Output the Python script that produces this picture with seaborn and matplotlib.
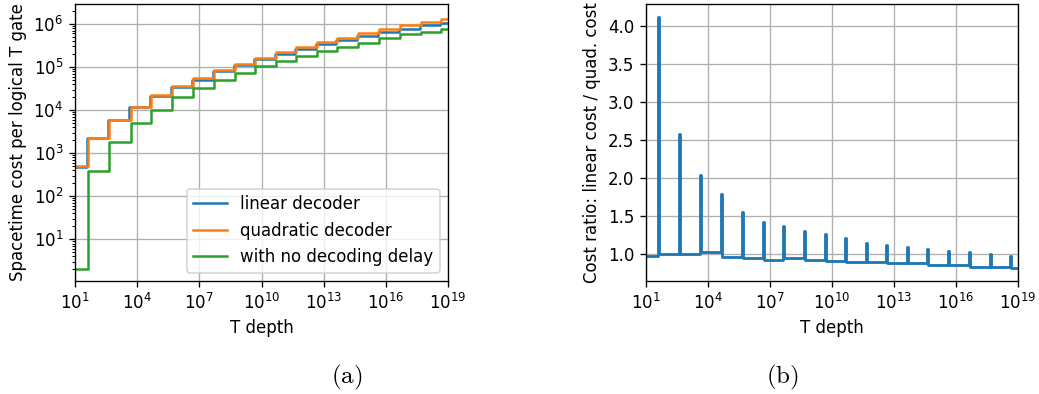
import numpy as np
import pandas as pd
import matplotlib
matplotlib.use("Agg")
import matplotlib.pyplot as plt
import matplotlib.ticker as ticker
import seaborn as sns

# log10(T depth) where the code distance steps up (quadratic decoder / no delay)
step_exp = [1.63, 2.66, 3.68, 4.68, 5.69, 6.69, 7.69, 8.70, 9.70, 10.69,
            11.68, 12.67, 13.66, 14.65, 15.67, 16.67, 17.68, 18.67]
# the linear decoder steps up a hair earlier
lin_step_exp = [1.58, 2.61, 3.63, 4.63, 5.64, 6.64, 7.64, 8.65, 9.65, 10.64,
                11.63, 12.62, 13.61, 14.60, 15.62, 16.62, 17.63, 18.62]

# spacetime cost per logical T gate on each plateau
linear_cost = [487, 2230, 5800, 11700, 21200, 34000, 51000, 78900, 108500, 150000,
               205000, 258000, 336000, 422000, 521000, 646000, 776000, 924000, 1077000]
quad_cost = [500, 2230, 5800, 11500, 22000, 36000, 55000, 83000, 118000, 165000,
             228000, 290000, 380000, 480000, 610000, 760000, 930000, 1120000, 1330000]
nodelay_cost = [2.1, 390, 1800, 5000, 10200, 19800, 32000, 49000, 74000, 105000,
                138000, 181000, 236000, 297000, 370000, 465000, 575000, 665000, 760000]

# panel (b): ratio linear / quadratic on each plateau and at each step
ratio_base = [0.975, 1.0, 1.0, 1.02, 0.965, 0.945, 0.925, 0.95, 0.92, 0.91,
              0.90, 0.89, 0.885, 0.88, 0.855, 0.85, 0.835, 0.825, 0.81]
ratio_peak = [4.13, 2.58, 2.04, 1.79, 1.56, 1.42, 1.37, 1.30, 1.26, 1.205,
              1.15, 1.12, 1.095, 1.065, 1.04, 1.02, 1.00, 0.98]

xticks = [1e1, 1e4, 1e7, 1e10, 1e13, 1e16, 1e19]


def steps_frame(exps, levels):
    t = np.concatenate([[1e1], 10.0 ** np.array(exps), [1e19]])
    c = list(levels) + [levels[-1]]
    return pd.DataFrame({"T": t, "cost": c})


plt.rcParams["mathtext.fontset"] = "cm"
fig = plt.figure(figsize=(1039 / 120, 394 / 120), dpi=120)
ax1 = fig.add_axes([75 / 1039, 113 / 394, 373 / 1039, 277 / 394])
ax2 = fig.add_axes([646 / 1039, 113 / 394, 372 / 1039, 277 / 394])

# (a) cost curves
for exps, levels, col, lab in [(lin_step_exp, linear_cost, "C0", "linear decoder"),
                               (step_exp, quad_cost, "C1", "quadratic decoder"),
                               (step_exp, nodelay_cost, "C2", "with no decoding delay")]:
    df = steps_frame(exps, levels)
    sns.lineplot(data=df, x="T", y="cost", ax=ax1, color=col, label=lab,
                 drawstyle="steps-post", lw=1.5)
ax1.set_xscale("log")
ax1.set_yscale("log")
ax1.set_xlim(1e1, 1e19)
ax1.set_ylim(1.08, 2.9e6)
ax1.set_xticks(xticks)
ax1.xaxis.set_minor_locator(ticker.NullLocator())
ax1.grid(True)
ax1.set_xlabel("T depth")
ax1.set_ylabel("Spacetime cost per logical T gate")
ax1.legend(loc="lower right")

# (b) cost ratio
rx = [1e1]
ry = [ratio_base[0]]
for k in range(len(step_exp)):
    rx += [10.0 ** lin_step_exp[k], 10.0 ** step_exp[k]]
    ry += [ratio_peak[k], ratio_base[k + 1]]
rx.append(1e19)
ry.append(ratio_base[-1])
rdf = pd.DataFrame({"T": rx, "ratio": ry})
sns.lineplot(data=rdf, x="T", y="ratio", ax=ax2, color="C0",
             drawstyle="steps-post", lw=1.7)
ax2.set_xscale("log")
ax2.set_xlim(1e1, 1e19)
ax2.set_xticks(xticks)
ax2.xaxis.set_minor_locator(ticker.NullLocator())
ax2.grid(True)
ax2.set_xlabel("T depth")
ax2.set_ylabel("Cost ratio: linear cost / quad. cost")

fig.text(347 / 1039, 17 / 394, r"$\mathrm{(a)}$", ha="center", va="center", fontsize=15)
fig.text(782 / 1039, 17 / 394, r"$\mathrm{(b)}$", ha="center", va="center", fontsize=15)

fig.savefig("out.png", dpi=120)
